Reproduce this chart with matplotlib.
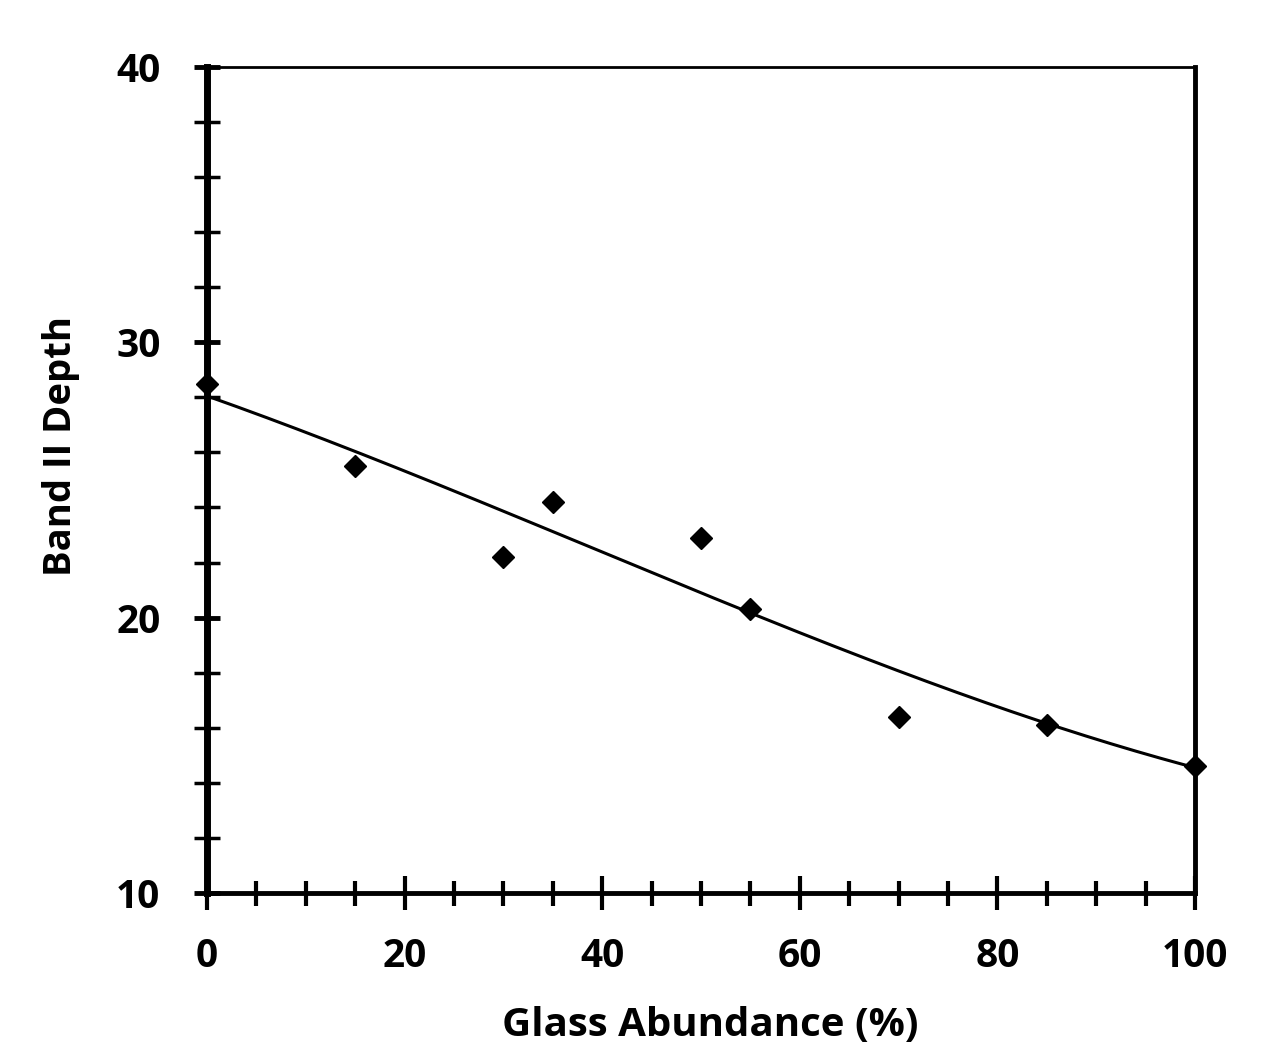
import numpy as np
import matplotlib.pyplot as plt
from matplotlib.ticker import MultipleLocator

# dados
glass = [0, 15, 30, 35, 50, 55, 70, 85, 100]
band_depth = [28.5, 25.5, 22.2, 24.2, 22.9, 20.3, 16.4, 16.1, 14.6]

# linha de tendencia
trend_x = [0, 25, 50, 75, 100]
trend_y = [28.05, 24.6, 20.9, 17.4, 14.55]

x_ticks = [0, 20, 40, 60, 80, 100]
y_ticks = [10, 20, 30, 40]

plt.rcParams['font.family'] = ['Open Sans', 'DejaVu Sans']

fig = plt.figure(figsize=(12.62, 10.46), dpi=100)
ax = fig.add_axes([0.164, 0.1463, 0.783, 0.7897])

coef = np.polyfit(trend_x, trend_y, 3)
xs = np.linspace(0, 100, 200)
ax.plot(xs, np.polyval(coef, xs), color='black', linewidth=2.2, zorder=2)

ax.plot(glass, band_depth, 'D', color='black', markersize=11.5, zorder=3,
        clip_on=False)

ax.set_xlim(0, 100)
ax.set_ylim(10, 40)
ax.set_xticks(x_ticks)
ax.set_yticks(y_ticks)
ax.xaxis.set_minor_locator(MultipleLocator(5))
ax.yaxis.set_minor_locator(MultipleLocator(2))

ax.spines['left'].set_linewidth(5)
ax.spines['bottom'].set_linewidth(3.5)
ax.spines['right'].set_linewidth(3.5)
ax.spines['top'].set_linewidth(2)

ax.tick_params(axis='x', which='major', direction='inout', length=25, width=3,
               labelsize=28, pad=19)
ax.tick_params(axis='x', which='minor', direction='inout', length=18, width=3)
ax.tick_params(axis='y', which='major', direction='inout', length=19, width=3.5,
               labelsize=28, pad=24)
ax.tick_params(axis='y', which='minor', direction='inout', length=19, width=2.5)
for lab in ax.get_xticklabels() + ax.get_yticklabels():
    lab.set_fontweight('bold')

ax.set_xlabel('Glass Abundance (%)', fontsize=29, fontweight='bold')
ax.set_ylabel('Band II Depth', fontsize=27.5, fontweight='bold')
ax.xaxis.set_label_coords(0.509, -0.137)
ax.yaxis.set_label_coords(-0.128, 0.541)

fig.savefig('out.png', dpi=100)
